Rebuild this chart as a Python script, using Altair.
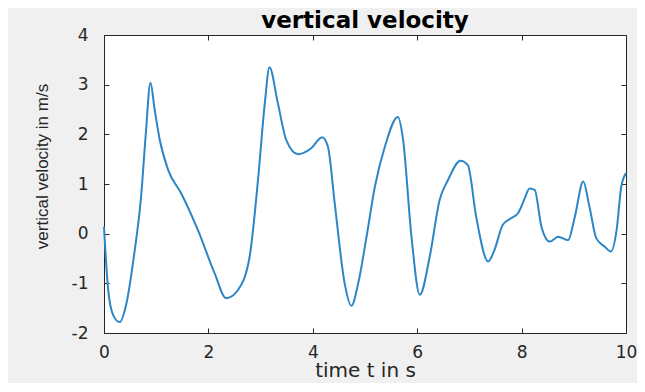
import altair as alt
import pandas as pd

# time (s) and vertical velocity (m/s)
t = [0.00, 0.08, 0.18, 0.30, 0.42, 0.58, 0.71, 0.80, 0.89, 0.97, 1.07, 1.23, 1.48, 1.80,
     2.12, 2.34, 2.57, 2.79, 2.95, 3.08, 3.17, 3.33, 3.49, 3.72, 3.97, 4.18, 4.29, 4.42,
     4.61, 4.74, 4.87, 5.03, 5.19, 5.38, 5.63, 5.73, 5.89, 6.05, 6.24, 6.43, 6.59, 6.83,
     6.97, 7.13, 7.36, 7.48, 7.64, 7.80, 7.93, 8.06, 8.15, 8.25, 8.38, 8.54, 8.70, 8.89,
     9.02, 9.18, 9.30, 9.43, 9.59, 9.71, 9.82, 9.91, 10.00]
v = [0.14, -1.13, -1.65, -1.78, -1.45, -0.40, 0.74, 2.00, 3.04, 2.50, 1.88, 1.28, 0.81, 0.07,
     -0.80, -1.30, -1.13, -0.46, 1.08, 2.62, 3.35, 2.63, 1.89, 1.60, 1.72, 1.94, 1.75, 0.61,
     -1.00, -1.45, -1.00, -0.06, 0.95, 1.75, 2.35, 1.89, -0.06, -1.23, -0.46, 0.68, 1.08, 1.47,
     1.38, 0.34, -0.56, -0.33, 0.18, 0.31, 0.41, 0.71, 0.91, 0.88, 0.14, -0.16, -0.06, -0.13,
     0.34, 1.05, 0.54, -0.09, -0.26, -0.36, 0.07, 0.95, 1.22]

x_ticks = [0, 2, 4, 6, 8, 10]
y_ticks = [-2, -1, 0, 1, 2, 3, 4]

df = pd.DataFrame({"t": t, "v": v})

WIDE = "DejaVu Sans"
TXT = "#262626"

xs = alt.Scale(domain=[0, 10], nice=False, zero=False)
ys = alt.Scale(domain=[-2, 4], nice=False, zero=False)

axis_common = dict(domain=False, grid=False, offset=-5, tickSize=5, tickColor=TXT,
                   tickWidth=1, labelFont=WIDE, labelFontSize=17, labelColor=TXT,
                   labelFlush=False, titleColor=TXT, titleFontWeight="normal",
                   labelExpr="'' + datum.value")

main = alt.Chart(df).mark_line(color="#2c86c6", strokeWidth=2, interpolate="monotone").encode(
    x=alt.X("t:Q", scale=xs,
            axis=alt.Axis(orient="bottom", values=x_ticks, title="time t in s",
                          titleFont=WIDE, titleFontSize=20,
                          labelPadding=11, titlePadding=0, **axis_common)),
    y=alt.Y("v:Q", scale=ys,
            axis=alt.Axis(orient="left", values=y_ticks, title="vertical velocity in m/s",
                          titleFont="Liberation Sans", titleFontSize=17, titleY=131,
                          labelPadding=16, titlePadding=20, **axis_common)),
)

frame = alt.Chart(df).mark_line(opacity=0).encode(
    x=alt.X("t:Q", scale=xs,
            axis=alt.Axis(orient="top", values=x_ticks, labels=False, title=None,
                          **axis_common)),
    y=alt.Y("v:Q", scale=ys,
            axis=alt.Axis(orient="right", values=y_ticks, labels=False, title=None,
                          **axis_common)),
)

chart = alt.layer(main, frame).resolve_axis(x="independent", y="independent").properties(
    width=522,
    height=298,
    background="#f0f0f0",
    padding={"left": 96, "top": 27, "right": 11, "bottom": 50},
    autosize=alt.AutoSizeParams(type="none"),
    title=alt.TitleParams("vertical velocity", font=WIDE, fontSize=23, fontWeight="bold",
                          color="#000000", anchor="middle", offset=0, dy=7),
).configure_view(
    fill="white", stroke="#262626", strokeWidth=1
)

chart.save("out.html", embed_options={"renderer": "svg", "actions": False})
